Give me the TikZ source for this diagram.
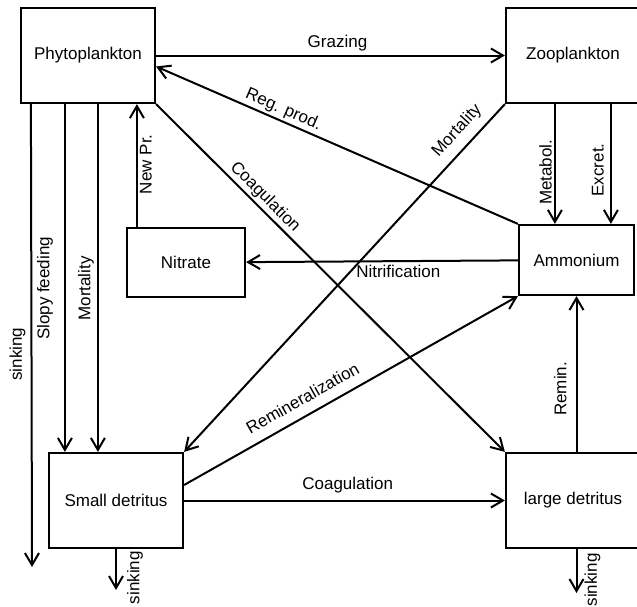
\documentclass[tikz,border=0pt]{standalone}
\usepackage{fontspec}
\setmainfont{Liberation Sans}
\usepackage{tikz}
\usetikzlibrary{arrows.meta,positioning,calc}
\tikzset{
  pool/.style={draw, line width=2.2pt, minimum width=134pt, minimum height=95pt, inner sep=0pt, align=center},
  flow/.style={-{Straight Barb[length=12pt,width=14pt]}, line width=2pt},
  lab/.style={inner sep=4pt, outer sep=0pt},
  uplab/.style={lab, rotate=90, anchor=south},
  uplabr/.style={lab, rotate=90, anchor=north},
}

\begin{document}
\begin{tikzpicture}[x=1pt, y=-1pt, font=\fontsize{17}{20}\selectfont]
  \useasboundingbox (0,0) rectangle (637,606);
  % pools
  \node[pool] (phy) at (88,55.5) {Phytoplankton};
  \node[pool] (zoo) at (573,55.5) {Zooplankton};
  \node[pool, minimum width=115pt, minimum height=70pt] (amm) at (576.5,260) {Ammonium};
  \node[pool, minimum width=118pt, minimum height=69pt] (nit) at (186,262.5) {Nitrate};
  \node[pool] (sdet) at (116,500.5) {Small detritus};
  \node[pool] (ldet) at (573,500.5) {large detritus};

  % attachment points
  \coordinate (psink) at ([xshift=11pt]phy.south west);
  \coordinate (pslop) at ([xshift=45pt]phy.south west);
  \coordinate (pmort) at ([xshift=78pt]phy.south west);
  \coordinate (pbot) at (32,567);
  \coordinate (met) at ([xshift=50pt]zoo.south west);
  \coordinate (exc) at ([xshift=106pt]zoo.south west);
  \coordinate (newp) at ([xshift=11pt]nit.north west);
  \coordinate (rem) at (ldet.north -| amm.south);
  \coordinate (ssink) at (116,590);
  \coordinate (lsink) at (576.5,593);

  % fluxes
  \draw[flow] (phy) -- node[lab, above, pos=0.52] {Grazing} (zoo);
  \draw[flow] (amm.north west) -- node[lab, above, sloped, pos=0.66, inner sep=3pt] {Reg. prod.} ([yshift=-11pt]phy.east);
  \draw[flow] (phy.south east) -- node[lab, above, sloped, pos=0.29, inner sep=3pt] {Coagulation} (ldet.north west);
  \draw[flow] (zoo.south west) -- node[lab, above, sloped, pos=0.11, inner sep=9pt] {Mortality} (sdet.north east);
  \draw[flow] (met) -- node[uplab, pos=0.57, inner sep=3pt] {Metabol.} (met |- amm.north);
  \draw[flow] (exc) -- node[uplab, pos=0.55, inner sep=7pt] {Excret.} (exc |- amm.north);
  \draw[flow] (amm) -- node[lab, below, pos=0.44] {Nitrification} (nit);
  \draw[flow] (newp) -- node[uplabr, pos=0.51, inner sep=3pt] {New Pr.} (newp |- phy.south);
  \draw[flow] (psink) -- node[uplab, pos=0.54, inner sep=6pt] {sinking} (pbot);
  \draw[flow] (pslop) -- node[uplab, pos=0.53, inner sep=12pt] {Slopy feeding} (pslop |- sdet.north);
  \draw[flow] (pmort) -- node[uplab, pos=0.53, inner sep=4pt] {Mortality} (pmort |- sdet.north);
  \draw[flow] ([yshift=15.5pt]sdet.east) -- node[lab, above, sloped, pos=0.38, inner sep=11pt] {Remineralization} (amm.south west);
  \draw[flow] (sdet) -- node[lab, above, pos=0.51, inner sep=7pt] {Coagulation} (ldet);
  \draw[flow] (rem) -- node[uplab, pos=0.405, inner sep=10pt] {Remin.} (amm.south);
  \draw[flow] (sdet.south) -- node[uplabr, pos=0.7, inner sep=11pt] {sinking} (ssink);
  \draw[flow] (ldet.south -| amm.south) -- node[uplabr, pos=0.7, inner sep=8pt] {sinking} (lsink);
\end{tikzpicture}
\end{document}
